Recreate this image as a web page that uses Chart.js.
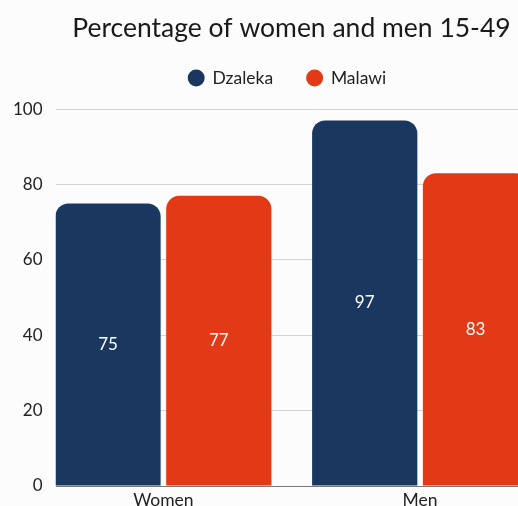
<!DOCTYPE html>
<html>
<head>
<meta charset="utf-8">
<script src="https://cdn.jsdelivr.net/npm/chart.js@4/dist/chart.umd.min.js"></script>
<style>
  html, body { margin: 0; padding: 0; background: #fcfcfc; overflow: hidden; }
  #wrap { width: 518px; height: 506px; overflow: hidden; }
  canvas { display: block; }
</style>
</head>
<body>
<div id="wrap"><canvas id="grafico" width="583" height="515"></canvas></div>
<script>
// Dados do gráfico
const categorias = ['Women', 'Men'];
const dzaleka = [75, 97];
const malawi = [77, 83];
const ticksY = [0, 20, 40, 60, 80, 100];

const corDzaleka = '#19375f';
const corMalawi = '#e23a16';

// Rótulos brancos no meio de cada barra
const rotulosBarras = {
    id: 'rotulosBarras',
    afterDatasetsDraw(chart) {
        const ctx = chart.ctx;
        ctx.save();
        ctx.font = '17px Lato';
        ctx.fillStyle = '#ffffff';
        ctx.textAlign = 'center';
        ctx.textBaseline = 'middle';
        chart.data.datasets.forEach((ds, i) => {
            chart.getDatasetMeta(i).data.forEach((barra, j) => {
                ctx.fillText(ds.data[j].y, barra.x, (barra.y + barra.base) / 2);
            });
        });
        ctx.restore();
    }
};

// Altura fixa da legenda e pequeno deslocamento para a esquerda
const ajusteLegenda = {
    id: 'ajusteLegenda',
    beforeInit(chart) {
        const legenda = chart.legend;
        const fitOriginal = legenda.fit;
        legenda.fit = function () {
            fitOriginal.call(this);
            this.height = 74;
        };
        const drawOriginal = legenda.draw;
        legenda.draw = function () {
            this.ctx.save();
            this.ctx.translate(-4, 0);
            drawOriginal.call(this);
            this.ctx.restore();
        };
    }
};

Chart.defaults.font.family = 'Lato';
Chart.defaults.color = '#222222';

const ctx = document.getElementById('grafico').getContext('2d');
new Chart(ctx, {
    type: 'bar',
    data: {
        datasets: [
            {
                label: 'Dzaleka',
                data: dzaleka.map((v, i) => ({ x: i, y: v })),
                backgroundColor: corDzaleka
            },
            {
                label: 'Malawi',
                data: malawi.map((v, i) => ({ x: i, y: v })),
                backgroundColor: corMalawi
            }
        ]
    },
    options: {
        responsive: false,
        animation: false,
        layout: { padding: 0 },
        datasets: {
            bar: {
                categoryPercentage: 0.863,
                barPercentage: 0.95,
                borderRadius: 13,
                borderSkipped: 'start'
            }
        },
        plugins: {
            title: {
                display: true,
                text: 'Percentage of women and men 15-49',
                color: '#1a1a1a',
                font: { size: 26.5, weight: 'normal' },
                padding: { top: 13, bottom: -9.6 }
            },
            legend: {
                position: 'top',
                labels: {
                    usePointStyle: true,
                    pointStyle: 'circle',
                    boxWidth: 15,
                    boxHeight: 12,
                    padding: 34,
                    color: '#222222',
                    font: { size: 17.5 }
                }
            },
            tooltip: { enabled: false }
        },
        scales: {
            x: {
                type: 'linear',
                offset: false,
                min: -0.42,
                max: 1.6345,
                grid: { display: false, drawTicks: false, offset: false },
                border: { display: false },
                afterBuildTicks: (escala) => {
                    escala.ticks = categorias.map((c, i) => ({ value: i }));
                },
                ticks: {
                    padding: 4,
                    font: { size: 17.5 },
                    callback: (v) => categorias[v] !== undefined ? categorias[v] : ''
                }
            },
            y: {
                min: 0,
                max: 100,
                afterBuildTicks: (escala) => {
                    escala.ticks = ticksY.map(v => ({ value: v }));
                },
                grid: {
                    drawTicks: false,
                    color: (c) => c.tick && c.tick.value === 0 ? '#7a7a7a' : '#d4d4d4'
                },
                border: { display: false },
                ticks: {
                    padding: 13,
                    font: { size: 17 }
                }
            }
        }
    },
    plugins: [rotulosBarras, ajusteLegenda]
});
</script>
</body>
</html>
